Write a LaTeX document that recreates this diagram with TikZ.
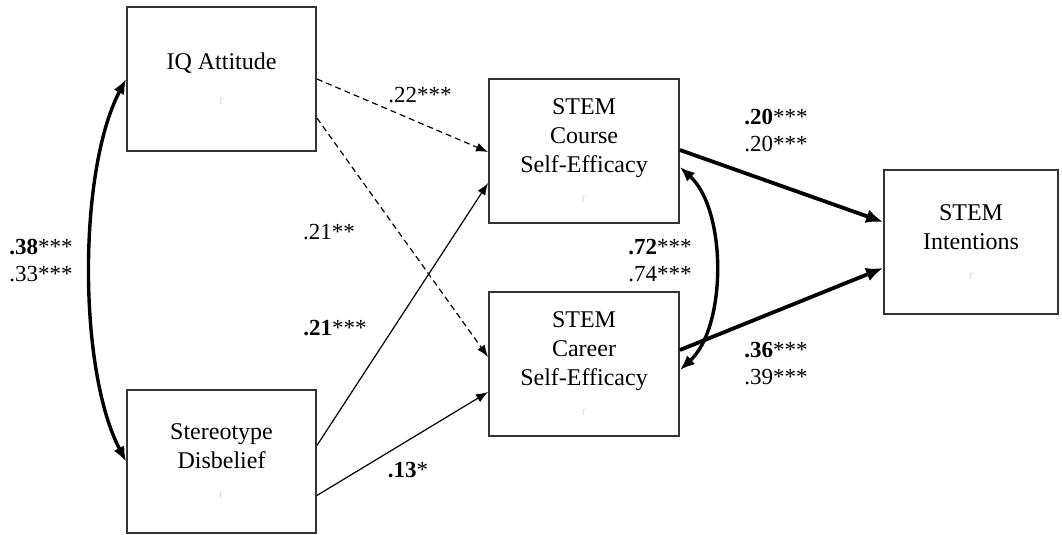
\documentclass[tikz,border=0pt]{standalone}
\usepackage{fontspec}
\setmainfont{Liberation Serif}
\usetikzlibrary{arrows.meta,calc}
\begin{document}
\begin{tikzpicture}[x=1pt,y=-1pt,
  box/.style={draw=black!80, line width=1.8pt, inner sep=0pt, align=center,
    font=\fontsize{24}{29}\selectfont},
  coef/.style={inner sep=0pt, align=center, font=\fontsize{23}{27}\selectfont},
  thin path/.style={line width=1.2pt, -{Latex[length=12pt,width=9pt]}},
  dash path/.style={thin path, dash pattern=on 6pt off 4pt},
  thick path/.style={line width=3.8pt, -{Latex[length=17pt,width=14pt]}},
  corr/.style={line width=3.4pt, {Latex[length=15pt,width=12pt]}-{Latex[length=15pt,width=12pt]}}
]
\newcommand{\faintr}{\\[1pt]{\fontsize{14}{14}\selectfont\color{black!12} r}}
\useasboundingbox (0,0) rectangle (1062,535);

% variables
\node[box, minimum width=189pt, minimum height=144pt] (iq)  at (221.5,79)  {IQ Attitude\\[6pt]{\fontsize{14}{14}\selectfont\color{black!12} r}};
\node[box, minimum width=189pt, minimum height=143pt] (sd)  at (221.5,461.5) {Stereotype\\Disbelief\faintr};
\node[box, minimum width=190pt, minimum height=144pt] (cse) at (584,151)   {STEM\\Course\\Self-Efficacy\faintr};
\node[box, minimum width=190pt, minimum height=144pt] (car) at (584,364)   {STEM\\Career\\Self-Efficacy\faintr};
\node[box, minimum width=174pt, minimum height=144pt] (int) at (971,242)   {STEM\\Intentions\faintr};

% paths from the predictors
\draw[dash path] (iq.east) -- ([yshift=-1pt]cse.west);
\draw[dash path] ([yshift=-39pt]iq.east) -- ([yshift=7pt]car.west);
\draw[thin path] ([yshift=16pt]sd.east) -- ([yshift=-32pt]cse.west);
\draw[thin path] ([yshift=-34pt]sd.east) -- ([yshift=-28pt]car.west);

% paths to intentions
\draw[thick path] ([yshift=1pt]cse.east) -- ([yshift=20pt]int.west);
\draw[thick path] ([yshift=14pt]car.east) -- ([yshift=-26pt]int.west);

% correlations
\draw[corr] (iq.west) .. controls (78,170) and (78,370) .. (sd.west);
\draw[corr] ([yshift=-16pt]cse.east) .. controls (727,210) and (727,327) .. ([yshift=-6pt]car.east);

% coefficients
\node[coef] (c1) at (420,95)  {.22***};
\node[coef] (c2) at (329,232) {.21**};
\node[coef] (c3) at (335,328) {\textbf{.21}***};
\node[coef] (c4) at (408,470) {\textbf{.13}*};
\node[coef] (c5) at (41,261)  {\textbf{.38}***\\.33***};
\node[coef] (c6) at (660,261) {\textbf{.72}***\\.74***};
\node[coef] (c7) at (776,131) {\textbf{.20}***\\.20***};
\node[coef] (c8) at (776,364) {\textbf{.36}***\\.39***};
\end{tikzpicture}
\end{document}
